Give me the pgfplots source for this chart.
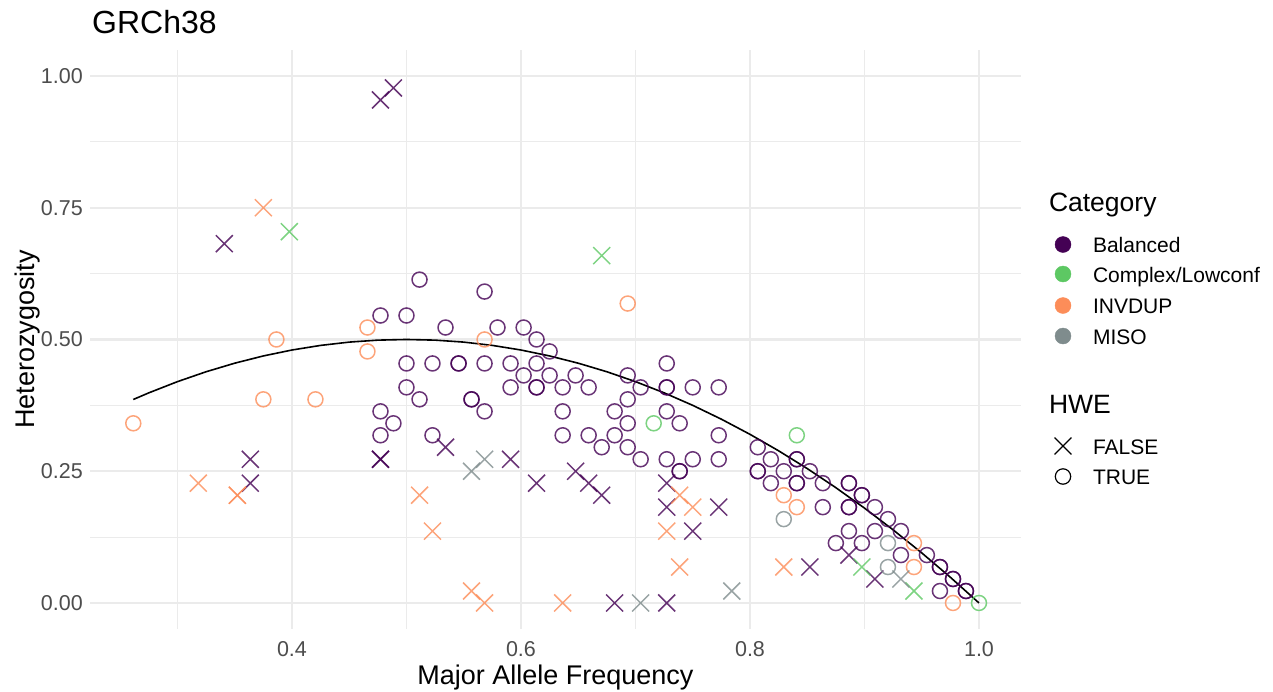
\documentclass[border=0pt]{standalone}
\usepackage{fontspec}
\setmainfont{Liberation Sans}
\usepackage{pgfplots}
\pgfplotsset{compat=1.18}
\definecolor{bal}{HTML}{440154}
\definecolor{cpx}{HTML}{5DC863}
\definecolor{inv}{HTML}{FC8D59}
\definecolor{miso}{HTML}{7F8C8D}
\definecolor{gridc}{HTML}{EBEBEB}
\definecolor{tickc}{HTML}{4D4D4D}
\newcommand\ticksize{\fontsize{21.5pt}{25pt}\selectfont}
\newcommand\axtitle{\fontsize{27pt}{32pt}\selectfont}
\newcommand\legtitle{\fontsize{26.5pt}{31pt}\selectfont}
\newcommand\legtext{\fontsize{21pt}{25pt}\selectfont}
\newcommand\plottitle{\fontsize{32pt}{38pt}\selectfont}
\pgfplotsset{
  pt/.style={only marks, forget plot, mark options={solid, line width=1.5pt, opacity=0.8}},
  circ/.style={pt, mark=o, mark size=7.5pt},
  cross/.style={pt, mark=x, mark size=12pt},
  legimg/.style={legend image code/.code={\path[draw=none,fill=none] (-10pt,-1pt) rectangle (28pt,17pt); \draw[##1] plot coordinates {(0pt,8pt)};}},
}
\begin{document}
\begin{tikzpicture}
\path[use as bounding box] (0pt,0pt) rectangle (1273pt,691pt);
\begin{axis}[
  at={(90pt,62pt)}, anchor=south west,
  scale only axis, width=931pt, height=579pt,
  xmin=0.2236, xmax=1.0367, ymin=-0.0494, ymax=1.0493,
  axis line style={draw=none},
  major tick length=0pt, minor tick length=0pt,
  xtick={0.4,0.6,0.8,1.0}, xticklabels={0.4,0.6,0.8,1.0},
  ytick={0,0.25,0.5,0.75,1}, yticklabels={0.00,0.25,0.50,0.75,1.00},
  minor xtick={0.3,0.5,0.7,0.9}, minor ytick={0.125,0.375,0.625,0.875},
  grid=both,
  major grid style={gridc, line width=2.2pt},
  minor grid style={gridc, line width=1.1pt},
  tick label style={font=\ticksize, text=tickc, inner sep=0pt},
  xticklabel style={anchor=north, yshift=-12pt},
  yticklabel style={anchor=east, xshift=-7pt},
  legend cell align=left,
  legend style={at={(axis description cs:1.03437,0.7582)}, anchor=north west,
    draw=none, fill=none, inner sep=0pt, outer sep=0pt, row sep=0pt, column sep=0pt,
    font=\legtext, cells={anchor=base west, inner sep=0pt}},
]
% Balanced, HWE FALSE
\addplot[cross, color=bal] table {
0.4773 0.9545
0.4886 0.9773
0.3409 0.6818
0.3636 0.2727
0.3636 0.2273
0.4773 0.2727
0.4773 0.2727
0.5341 0.2955
0.5909 0.2727
0.6136 0.2273
0.6477 0.2500
0.6591 0.2273
0.6705 0.2045
0.7273 0.2273
0.7273 0.1818
0.7727 0.1818
0.7500 0.1364
0.6818 0.0000
0.7273 0.0000
0.8523 0.0682
0.8864 0.0909
0.9091 0.0455
};
% Balanced, HWE TRUE
\addplot[circ, color=bal] table {
0.5114 0.6136
0.5682 0.5909
0.4773 0.5455
0.5000 0.5455
0.5341 0.5227
0.5795 0.5227
0.6023 0.5227
0.6136 0.5000
0.6250 0.4773
0.5000 0.4545
0.5227 0.4545
0.5455 0.4545
0.5455 0.4545
0.5682 0.4545
0.5909 0.4545
0.6136 0.4545
0.7273 0.4545
0.6023 0.4318
0.6250 0.4318
0.6477 0.4318
0.6932 0.4318
0.5000 0.4091
0.5909 0.4091
0.6136 0.4091
0.6136 0.4091
0.6364 0.4091
0.6591 0.4091
0.7045 0.4091
0.7273 0.4091
0.7273 0.4091
0.7500 0.4091
0.7727 0.4091
0.5114 0.3864
0.5568 0.3864
0.5568 0.3864
0.6932 0.3864
0.4773 0.3636
0.5682 0.3636
0.6364 0.3636
0.6818 0.3636
0.7273 0.3636
0.4886 0.3409
0.6932 0.3409
0.7386 0.3409
0.4773 0.3182
0.5227 0.3182
0.6364 0.3182
0.6591 0.3182
0.6818 0.3182
0.7727 0.3182
0.6705 0.2955
0.6932 0.2955
0.7045 0.2727
0.7273 0.2727
0.7500 0.2727
0.7727 0.2727
0.7386 0.2500
0.7386 0.2500
0.8068 0.2955
0.8182 0.2727
0.8409 0.2727
0.8409 0.2727
0.8068 0.2500
0.8068 0.2500
0.8295 0.2500
0.8523 0.2500
0.8182 0.2273
0.8409 0.2273
0.8409 0.2273
0.8636 0.2273
0.8864 0.2273
0.8864 0.2273
0.8977 0.2045
0.8977 0.2045
0.9091 0.1818
0.9205 0.1591
0.8636 0.1818
0.8864 0.1818
0.8864 0.1818
0.8864 0.1364
0.9091 0.1364
0.9318 0.1364
0.8750 0.1136
0.8977 0.1136
0.9318 0.0909
0.9545 0.0909
0.9659 0.0682
0.9659 0.0682
0.9773 0.0455
0.9773 0.0455
0.9886 0.0227
0.9886 0.0227
0.9659 0.0227
};
% Complex/Lowconf
\addplot[cross, color=cpx] table {
0.3977 0.7045
0.6705 0.6591
0.8977 0.0682
0.9432 0.0227
};
\addplot[circ, color=cpx] table {
0.7159 0.3409
0.8409 0.3182
1.0000 0.0000
};
% INVDUP
\addplot[cross, color=inv] table {
0.3750 0.7500
0.3182 0.2273
0.3523 0.2045
0.3523 0.2045
0.5114 0.2045
0.5227 0.1364
0.5568 0.0227
0.5682 0.0000
0.6364 0.0000
0.7273 0.1364
0.7386 0.2045
0.7500 0.1818
0.7386 0.0682
0.8295 0.0682
};
\addplot[circ, color=inv] table {
0.2614 0.3409
0.3864 0.5000
0.3750 0.3864
0.4205 0.3864
0.4659 0.5227
0.4659 0.4773
0.5682 0.5000
0.6932 0.5682
0.8295 0.2045
0.8409 0.1818
0.9432 0.1136
0.9432 0.0682
0.9773 0.0000
};
% MISO
\addplot[cross, color=miso] table {
0.5568 0.2500
0.5682 0.2727
0.7045 0.0000
0.7841 0.0227
0.9318 0.0455
};
\addplot[circ, color=miso] table {
0.8295 0.1591
0.9205 0.1136
0.9205 0.0682
};
% HWE expectation curve
\addplot[black, line width=1.6pt, no marks, forget plot] coordinates {
(0.2614,0.3861) (0.275,0.39875) (0.3,0.42) (0.325,0.43875) (0.35,0.455)
(0.375,0.46875) (0.4,0.48) (0.425,0.48875) (0.45,0.495) (0.475,0.49875)
(0.5,0.5) (0.525,0.49875) (0.55,0.495) (0.575,0.48875) (0.6,0.48)
(0.625,0.46875) (0.65,0.455) (0.675,0.43875) (0.7,0.42) (0.725,0.39875)
(0.75,0.375) (0.775,0.34875) (0.8,0.32) (0.825,0.28875) (0.85,0.255)
(0.875,0.21875) (0.9,0.18) (0.925,0.13875) (0.95,0.095) (0.975,0.04875)
(1.0,0.0)
};
% legend
\addlegendimage{empty legend}
\addlegendentry{\hspace{-44pt}\legtitle\rule[-5pt]{0pt}{24pt}Category}
\addlegendimage{legimg, mark=*, mark size=8pt, color=bal}
\addlegendentry{\rule[-5pt]{0pt}{41pt}Balanced}
\addlegendimage{legimg, mark=*, mark size=8pt, color=cpx}
\addlegendentry{\rule[-5pt]{0pt}{29pt}Complex/Lowconf}
\addlegendimage{legimg, mark=*, mark size=8pt, color=inv}
\addlegendentry{\rule[-5pt]{0pt}{31pt}INVDUP}
\addlegendimage{legimg, mark=*, mark size=8pt, color=miso}
\addlegendentry{\rule[-5pt]{0pt}{30pt}MISO}
\addlegendimage{empty legend}
\addlegendentry{\hspace{-44pt}\legtitle\rule[-5pt]{0pt}{69pt}HWE}
\addlegendimage{legimg, mark=x, mark size=12pt, color=black, line width=1.2pt}
\addlegendentry{\rule[-5pt]{0pt}{40pt}FALSE}
\addlegendimage{legimg, mark=o, mark size=7.7pt, color=black, line width=1.2pt}
\addlegendentry{\rule[-5pt]{0pt}{30pt}TRUE}
\end{axis}
\node[anchor=base west, inner sep=0pt, font=\plottitle] at (92pt,657pt) {GRCh38};
\node[anchor=base, inner sep=0pt, font=\axtitle] at (555.5pt,7pt) {Major Allele Frequency};
\node[anchor=base, rotate=90, inner sep=0pt, font=\axtitle] at (34pt,351.5pt) {Heterozygosity};
\end{tikzpicture}
\end{document}
